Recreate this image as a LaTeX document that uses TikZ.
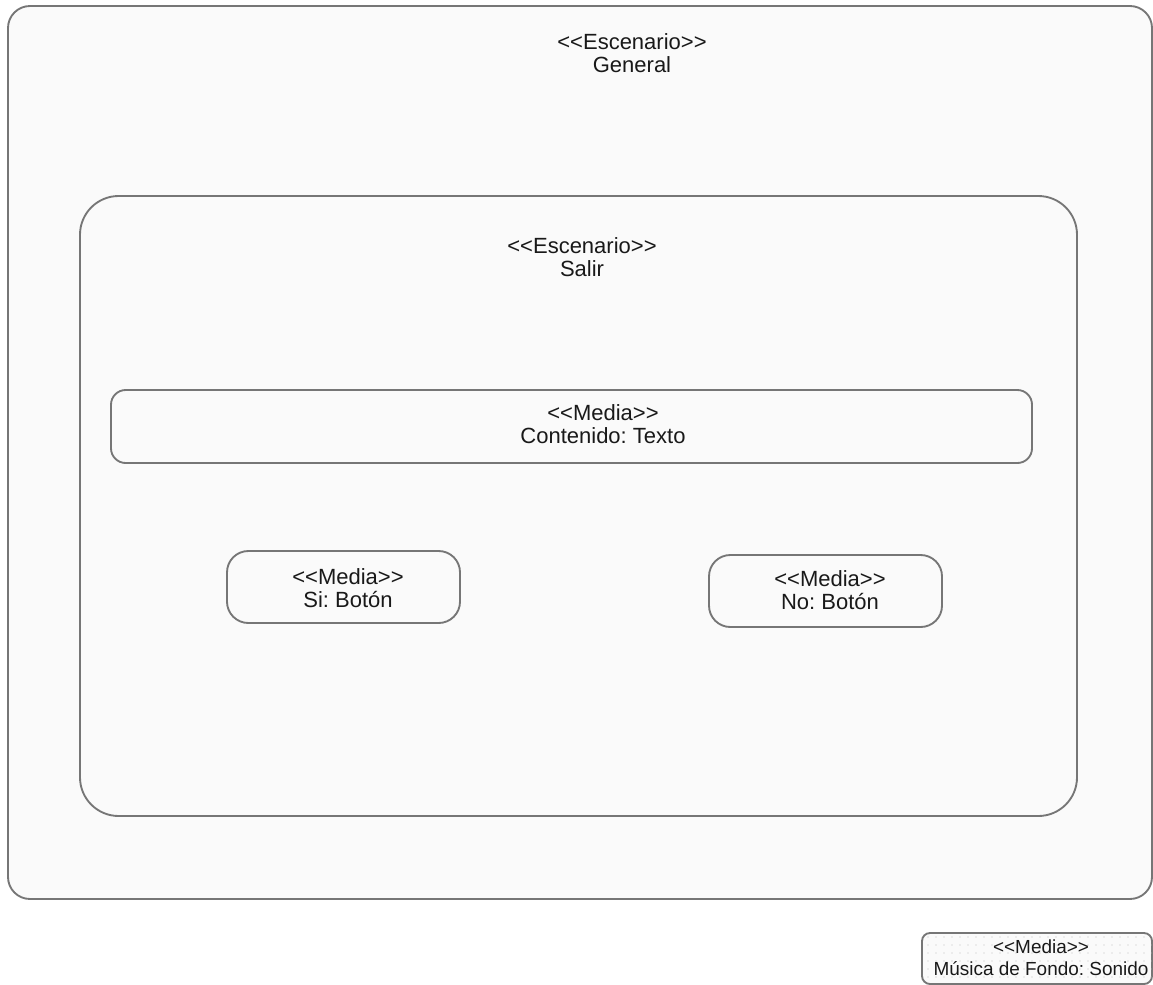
\documentclass[tikz,border=0pt]{standalone}
\usepackage{fontspec}
\setmainfont{Liberation Sans}[Ligatures=TeXOff]
\frenchspacing
\usepackage{tikz}
\usetikzlibrary{patterns.meta}
\definecolor{figline}{RGB}{118,118,118}
\definecolor{figpanel}{RGB}{250,250,250}
\definecolor{figtext}{RGB}{25,25,25}
\definecolor{figdot}{RGB}{190,190,190}
\tikzset{
  box/.style  ={draw=figline, fill=figpanel, line width=1.4pt},
  lab/.style  ={font=\fontsize{16.5}{16.9}\selectfont, text=figtext, align=center, inner sep=0pt},
  labs/.style ={font=\fontsize{14.2}{16.5}\selectfont, text=figtext, align=center, inner sep=0pt},
}

\begin{document}
\begin{tikzpicture}[x=0.75pt,y=-0.75pt]
  \useasboundingbox (0,0) rectangle (1153,985);
  % escenario general
  \draw[box,rounded corners=16.5pt] (8,6) rectangle (1152,899);
  \node[lab] (tgen) at (632,53) {<<Escenario>>\\General};
  % escenario salir
  \draw[box,rounded corners=29pt] (80,196) rectangle (1077,816);
  \node[lab] (tsal) at (582,257) {<<Escenario>>\\Salir};
  % media
  \draw[box,rounded corners=11pt] (111,390) rectangle (1032,463);
  \node[lab] (tcont) at (603,424) {<<Media>>\\Contenido: Texto};
  \draw[box,rounded corners=16pt] (227,551) rectangle (460,623);
  \node[lab] (tsi) at (348,588) {<<Media>>\\Si: Botón};
  \draw[box,rounded corners=16pt] (709,555) rectangle (942,627);
  \node[lab] (tno) at (830,590) {<<Media>>\\No: Botón};
  % sonido
  \draw[box,rounded corners=6pt,
    postaction={pattern={Dots[distance=6pt,radius=0.45pt]},pattern color=figdot}]
    (922,933) rectangle (1152,984);
  \node[labs] (tmus) at (1041,958) {<<Media>>\\Música de Fondo: Sonido};
\end{tikzpicture}
\end{document}
